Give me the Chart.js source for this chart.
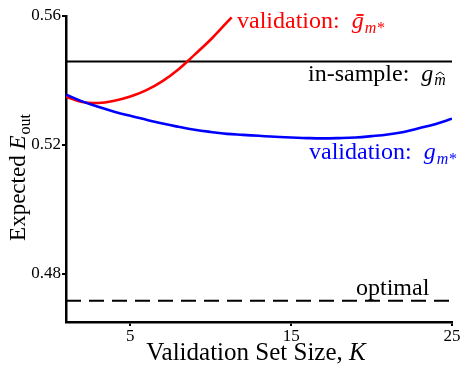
<!DOCTYPE html>
<html>
<head>
<meta charset="utf-8">
<script src="https://cdn.jsdelivr.net/npm/chart.js@4.4.1/dist/chart.umd.min.js"></script>
<style>
  html, body { margin: 0; padding: 0; background: #fff; }
  #wrap { width: 466px; height: 367px; }
</style>
</head>
<body>
<div id="wrap"><canvas id="chart" width="466" height="367"></canvas></div>
<script>
// Data
const kValues = [1, 2, 3, 4, 5, 6, 7, 8, 9, 10, 11, 12, 13, 14, 15, 16, 17, 18, 19, 20, 21, 22, 23, 24, 25];
const validationBest = [0.5356, 0.5335, 0.5318, 0.5303, 0.5290, 0.5278, 0.5266, 0.5256, 0.5247, 0.5240,
  0.5234, 0.5231, 0.5228, 0.5225, 0.5223, 0.5221, 0.5220, 0.5221, 0.5223, 0.5227,
  0.5232, 0.5240, 0.5252, 0.5265, 0.5281];
const redK = [1, 2, 3, 4, 5, 6, 7, 8, 9, 10, 11, 11.3];
const validationBar = [0.5350, 0.5333, 0.5330, 0.5337, 0.5350, 0.5370, 0.5398, 0.5435, 0.5480, 0.5527, 0.5580, 0.5596];
const inSample = 0.5459;
const optimal = 0.4716;
const xTicks = [5, 15, 25];
const yTicks = [0.48, 0.52, 0.56];

const SERIF = '"Liberation Serif", "DejaVu Serif", serif';

const toPoints = (xs, ys) => xs.map((x, i) => ({ x: x, y: ys[i] }));
const flatLine = (v) => [{ x: kValues[0], y: v }, { x: kValues[kValues.length - 1], y: v }];

// draw a run of text pieces, each with its own font / colour / vertical shift
function drawRuns(ctx, x, y, runs) {
  let cx = x;
  runs.forEach(r => {
    ctx.font = r.font;
    ctx.fillStyle = r.color;
    ctx.fillText(r.t, cx, y + (r.dy || 0));
    const w = ctx.measureText(r.t).width;
    if (r.bar) {
      ctx.strokeStyle = r.color;
      ctx.lineWidth = 1.8;
      ctx.beginPath();
      ctx.moveTo(cx + w * 0.4, y - 13);
      ctx.lineTo(cx + w * 1.0, y - 13);
      ctx.stroke();
    }
    if (r.hat) {
      ctx.strokeStyle = r.color;
      ctx.lineWidth = 1;
      ctx.beginPath();
      ctx.moveTo(cx + w * 0.15, y + (r.dy || 0) - 10);
      ctx.lineTo(cx + w * 0.5, y + (r.dy || 0) - 13);
      ctx.lineTo(cx + w * 0.85, y + (r.dy || 0) - 10);
      ctx.stroke();
    }
    cx += w + (r.gap || 0);
  });
}

const labelsPlugin = {
  id: 'labels',
  afterDraw(chart) {
    const ctx = chart.ctx;
    const ys = chart.scales.y;
    const ca = chart.chartArea;
    const big = '24px ' + SERIF;
    const bigIt = 'italic 24px ' + SERIF;
    const sub = 'italic 16px ' + SERIF;
    ctx.save();
    ctx.textBaseline = 'alphabetic';
    ctx.textAlign = 'left';

    // curve labels
    drawRuns(ctx, 237, 28, [
      { t: 'validation:', font: big, color: '#ff0000', gap: 12 },
      { t: 'g', font: bigIt, color: '#ff0000', bar: true, gap: 1 },
      { t: 'm*', font: sub, color: '#ff0000', dy: 5 }
    ]);
    drawRuns(ctx, 308, 81, [
      { t: 'in-sample:', font: big, color: '#000', gap: 12 },
      { t: 'g', font: bigIt, color: '#000', gap: 1 },
      { t: 'm', font: sub, color: '#000', dy: 4, hat: true }
    ]);
    drawRuns(ctx, 309, 159, [
      { t: 'validation:', font: big, color: '#0000ff', gap: 12 },
      { t: 'g', font: bigIt, color: '#0000ff', gap: 1 },
      { t: 'm*', font: sub, color: '#0000ff', dy: 5 }
    ]);
    drawRuns(ctx, 356, ys.getPixelForValue(optimal) - 6, [
      { t: 'optimal', font: big, color: '#000' }
    ]);

    // x axis title
    const tf = '25px ' + SERIF, tfIt = 'italic 25px ' + SERIF;
    ctx.font = tf;
    const xt = 'Validation Set Size, ';
    const w1 = ctx.measureText(xt).width;
    ctx.font = tfIt;
    const w2 = ctx.measureText('K').width;
    drawRuns(ctx, 145 + (222 - w1 - w2) / 2, 360, [
      { t: xt, font: tf, color: '#000' },
      { t: 'K', font: tfIt, color: '#000' }
    ]);

    // y axis title, rotated
    ctx.translate(25, 178);
    ctx.rotate(-Math.PI / 2);
    const yf = '23px ' + SERIF, yfIt = 'italic 23px ' + SERIF;
    ctx.font = yf;
    const y1 = ctx.measureText('Expected ').width;
    ctx.font = yfIt;
    const y2 = ctx.measureText('E').width;
    ctx.font = '16px ' + SERIF;
    const y3 = ctx.measureText('out').width;
    drawRuns(ctx, -(y1 + y2 + y3) / 2, 0, [
      { t: 'Expected ', font: yf, color: '#000' },
      { t: 'E', font: yfIt, color: '#000', gap: 1 },
      { t: 'out', font: '16px ' + SERIF, color: '#000', dy: 5 }
    ]);
    ctx.restore();
  }
};

new Chart(document.getElementById('chart'), {
  type: 'line',
  data: {
    datasets: [
      {
        data: toPoints(kValues, validationBest),
        borderColor: '#0000ff', borderWidth: 2.6, pointRadius: 0,
        tension: 0.4
      },
      {
        data: toPoints(redK, validationBar),
        borderColor: '#ff0000', borderWidth: 2.6, pointRadius: 0,
        tension: 0.4
      },
      {
        data: flatLine(inSample),
        borderColor: '#000', borderWidth: 2, pointRadius: 0
      },
      {
        data: flatLine(optimal),
        borderColor: '#000', borderWidth: 2, pointRadius: 0,
        borderDash: [15, 8]
      }
    ]
  },
  options: {
    responsive: false,
    animation: false,
    layout: { padding: { top: 16, right: 14, left: 0, bottom: 0 } },
    plugins: { legend: { display: false }, tooltip: { enabled: false } },
    scales: {
      x: {
        type: 'linear', min: 1, max: 25,
        afterBuildTicks: s => { s.ticks = xTicks.map(v => ({ value: v })); },
        afterFit: s => { s.height = 45; },
        grid: { drawOnChartArea: false, drawTicks: true, tickLength: 4, color: '#000', lineWidth: 2 },
        border: { display: true, color: '#000', width: 2.5 },
        ticks: { color: '#000', font: { family: SERIF, size: 17 }, padding: 0, maxRotation: 0 }
      },
      y: {
        type: 'linear', min: 0.465, max: 0.56,
        afterBuildTicks: s => { s.ticks = yTicks.map(v => ({ value: v })); },
        afterFit: s => { s.width = 66; },
        grid: { drawOnChartArea: false, drawTicks: true, tickLength: 4, color: '#000', lineWidth: 2 },
        border: { display: true, color: '#000', width: 2.5 },
        ticks: { color: '#000', font: { family: SERIF, size: 17 }, padding: 1, callback: v => v.toFixed(2) }
      }
    }
  },
  plugins: [labelsPlugin]
});
</script>
</body>
</html>
